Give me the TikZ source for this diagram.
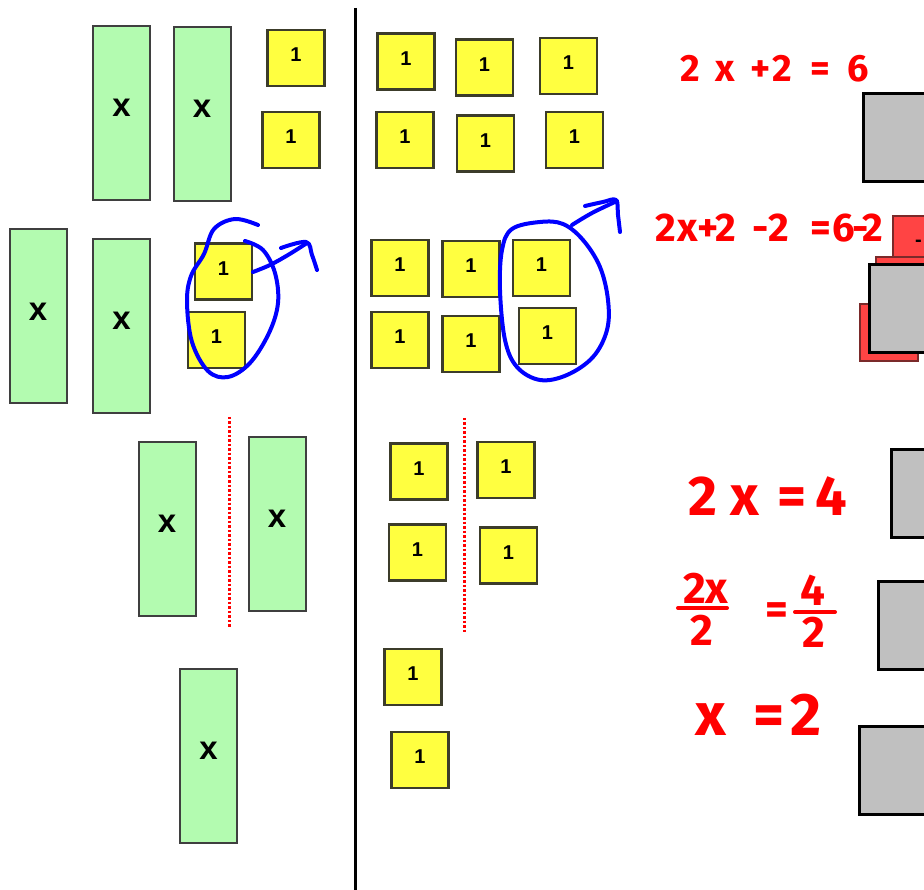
\documentclass[tikz,border=0pt]{standalone}
\usepackage{fontspec}
\setmainfont{Liberation Sans}
\newfontfamily\penfont{Fira Sans}

\definecolor{xgreen}{HTML}{B3FBB0}
\definecolor{oneyellow}{HTML}{FFFF40}
\definecolor{greenedge}{HTML}{3F3F3F}
\definecolor{yellowedge}{HTML}{3C3C2A}
\definecolor{boxgray}{HTML}{C0C0C0}
\definecolor{tilered}{HTML}{FF4444}
\definecolor{rededge}{HTML}{7A2A2A}
\definecolor{penred}{HTML}{FF0000}
\definecolor{penblue}{HTML}{0000FF}

% fixed-width slot for one handwritten character
\newcommand\pc[2]{\makebox[#1pt][l]{#2}}

\begin{document}
\begin{tikzpicture}[x=1pt, y=-1pt,
  xtile/.style={draw=greenedge, fill=xgreen, line width=2pt, inner sep=0pt,
    minimum width=57pt, minimum height=174pt, text depth=10pt,
    font=\bfseries\fontsize{33}{33}\selectfont},
  onetile/.style={draw=yellowedge, fill=oneyellow, line width=2.2pt, inner sep=0pt,
    minimum width=57pt, minimum height=56pt, text depth=6pt,
    font=\bfseries\fontsize{20}{20}\selectfont},
  graybox/.style={draw=black, fill=boxgray, line width=3pt, inner sep=0pt,
    anchor=north west, minimum width=110pt, minimum height=88pt},
  redtile/.style={draw=rededge, fill=tilered, line width=1.6pt, inner sep=0pt,
    anchor=north west, minimum width=58pt, minimum height=57pt},
  pen/.style={text=penred, inner sep=0pt, anchor=base west},
  penbar/.style={draw=penred, line width=4pt, line cap=round},
  loop/.style={draw=penblue, line width=4pt, line cap=round, line join=round},
  splitline/.style={draw=penred, line width=3pt, dash pattern=on 2.5pt off 2pt},
  divider/.style={draw=black, line width=3pt}
]
\useasboundingbox (0,0) rectangle (924,890);
\begin{scope}
\clip (0,0) rectangle (924,890);

% central divider
\coordinate (dtop) at (355,8);
\coordinate (dbot) at (355,890);
\draw[divider] (dtop) -- (dbot);

% ---- left side: x tiles ----
\node[xtile] (g1) at (121.5,113) {x};
\node[xtile] (g2) at (202,114) {x};
\node[xtile] (g3) at (38,316.5) {x};
\node[xtile] (g4) at (121.5,326) {x};
\node[xtile] (g5) at (167,529) {x};
\node[xtile] (g6) at (277,524) {x};
\node[xtile] (g7) at (208.5,756) {x};

% ---- unit tiles ----
\node[onetile] (u1) at (296,58) {1};
\node[onetile] (u2) at (291,140) {1};
\node[onetile] (u3) at (406,61.5) {1};
\node[onetile] (u4) at (484.5,67.5) {1};
\node[onetile] (u5) at (568.5,66) {1};
\node[onetile] (u6) at (405,140) {1};
\node[onetile] (u7) at (485.5,143.5) {1};
\node[onetile] (u8) at (574.5,140) {1};

\node[onetile] (u9) at (223.5,271.5) {1};
\node[onetile] (u10) at (216.5,340) {1};
\node[onetile] (u11) at (400,268) {1};
\node[onetile] (u12) at (471,269) {1};
\node[onetile] (u13) at (541.5,268) {1};
\node[onetile] (u14) at (400,340) {1};
\node[onetile] (u15) at (471,344) {1};
\node[onetile] (u16) at (547.5,336) {1};

\node[onetile] (u17) at (419,471.5) {1};
\node[onetile] (u18) at (506,470) {1};
\node[onetile] (u19) at (417.5,552.5) {1};
\node[onetile] (u20) at (508.5,555.5) {1};
\node[onetile] (u21) at (413,677) {1};
\node[onetile] (u22) at (420,760) {1};

% ---- dotted split lines ----
\coordinate (s1a) at (229,417);
\coordinate (s1b) at (229,628);
\coordinate (s2a) at (464,418);
\coordinate (s2b) at (464,632);
\draw[splitline] (s1a) -- (s1b);
\draw[splitline] (s2a) -- (s2b);

% ---- blue loops with arrows ----
\draw[loop] plot[smooth, tension=0.6] coordinates {(258,225) (235,219) (214,229) (204,254) (191,276) (187,302) (192,342) (208,371) (228,377) (250,363) (269,333) (278,303) (275,273) (263,250) (245,241)};
\draw[loop] plot[smooth, tension=0.6] coordinates {(253,272) (270,265) (288,255) (307,243)};
\draw[loop] plot[smooth, tension=0.6] coordinates {(281,248) (306,242) (312,255) (317,270)};

\draw[loop] plot[smooth cycle, tension=0.6] coordinates {(540,222) (512,229) (502,250) (500,290) (505,340) (517,367) (540,380) (567,375) (593,357) (607,330) (608,300) (600,267) (583,240) (563,224)};
\draw[loop] plot[smooth, tension=0.6] coordinates {(572,225) (592,213) (617,201)};
\draw[loop] plot[smooth, tension=0.6] coordinates {(585,206) (603,202) (616,200) (618,215) (620,232)};

% ---- gray boxes and red tiles at the right edge ----
\node[graybox] (b1) at (862,92) {};
\node[redtile] (r1) at (892,215) {};
\node[font=\bfseries\fontsize{20}{20}\selectfont, inner sep=0pt, anchor=east] (r1t) at (922,243) {-};
\node[redtile] (r2) at (875,256) {};
\node[redtile] (r3) at (859,303) {};
\node[graybox] (b2) at (868,263) {};
\node[graybox] (b3) at (890,448) {};
\node[graybox] (b4) at (877,580) {};
\node[graybox] (b5) at (858,725) {};

% ---- handwritten equations ----
\node[pen, font=\penfont\bfseries\fontsize{38}{38}\selectfont] (eq1) at (680,82)
  {\pc{35}{2}\pc{35}{x}\pc{22}{+}\pc{38}{2}\pc{37}{=}6};
\node[pen, font=\penfont\bfseries\fontsize{40}{40}\selectfont] (eq2) at (655,242)
  {\pc{22}{2}\pc{20}{x}\pc{18}{+}\pc{37}{2}\pc{16}{-}\pc{42}{2}\pc{22}{=}\pc{20}{6}\pc{10}{-}2};
\node[pen, font=\penfont\bfseries\fontsize{56}{56}\selectfont] (eq3) at (688,515)
  {\pc{42}{2}\pc{47}{x}\pc{38}{=}4};

\node[pen, font=\penfont\bfseries\fontsize{44}{44}\selectfont] (eq4n) at (683,603) {2x};
\node[pen, font=\penfont\bfseries\fontsize{44}{44}\selectfont] (eq4d) at (690,645) {2};
\node[pen, font=\penfont\bfseries\fontsize{44}{44}\selectfont] (eq4e) at (765,624) {=};
\node[pen, font=\penfont\bfseries\fontsize{44}{44}\selectfont] (eq4m) at (800,605) {4};
\node[pen, font=\penfont\bfseries\fontsize{44}{44}\selectfont] (eq4k) at (802,647) {2};
\coordinate (f1a) at (678,608);
\coordinate (f1b) at (727,608);
\coordinate (f2a) at (795,612);
\coordinate (f2b) at (835,612);
\draw[penbar] (f1a) -- (f1b);
\draw[penbar] (f2a) -- (f2b);

\node[pen, font=\penfont\bfseries\fontsize{60}{60}\selectfont] (eq5) at (695,735)
  {\pc{58}{x}\pc{37}{=}2};
\end{scope}
\end{tikzpicture}
\end{document}
